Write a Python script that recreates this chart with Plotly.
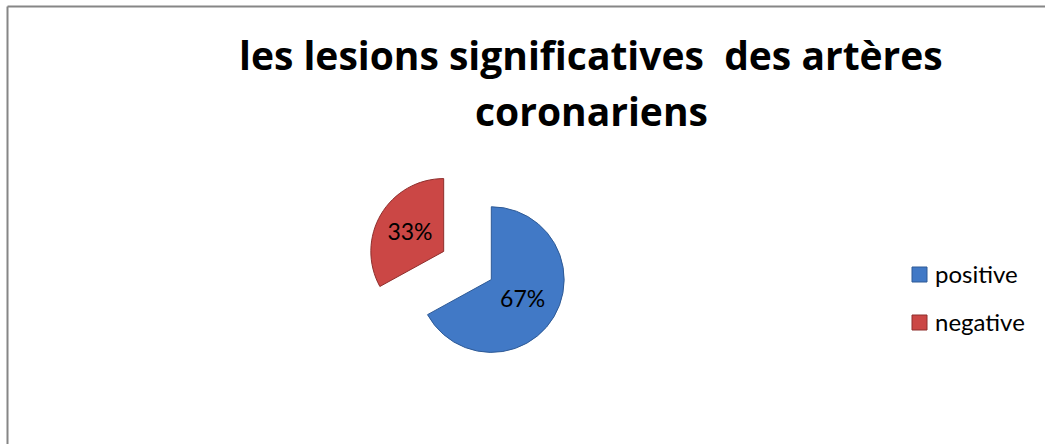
import plotly.graph_objects as go

# Chart data
categories = ["positive", "negative"]
values = [67, 33]
slice_colors = ["#4179C6", "#CB4745"]
edge_colors = ["#2E5A96", "#8E2E2C"]
title_lines = ["les lesions significatives  des artères", "coronariens"]

W, H = 1045, 444


def px_x(x):
    return x / W


def px_y(y):
    return 1 - y / H


fig = go.Figure()

fig.add_trace(go.Pie(
    labels=categories,
    values=values,
    sort=False,
    direction="clockwise",
    rotation=0,
    pull=[0.38, 0.38],
    marker=dict(colors=slice_colors, line=dict(color=edge_colors, width=1)),
    texttemplate="%{percent:.0%}",
    textposition="inside",
    insidetextorientation="horizontal",
    textfont=dict(family="Lato", size=23, color="#000000"),
    domain=dict(x=[px_x(367), px_x(568)], y=[px_y(366), px_y(165)]),
    showlegend=False,
    hoverinfo="label+percent",
))

# Title, two centred lines
for i, line in enumerate(title_lines):
    fig.add_annotation(
        text=f"<b>{line}</b>",
        x=px_x(591), y=px_y(55 + 55 * i),
        xref="paper", yref="paper",
        xanchor="center", yanchor="middle",
        showarrow=False,
        font=dict(family="Open Sans", size=39, color="#000000"),
    )

# Legend: square swatch + label for each category
for i, (name, col, edge) in enumerate(zip(categories, slice_colors, edge_colors)):
    cy = 274.5 + 48 * i
    fig.add_shape(
        type="rect", xref="paper", yref="paper",
        x0=px_x(912), x1=px_x(927), y0=px_y(cy + 7.5), y1=px_y(cy - 7.5),
        fillcolor=col, line=dict(color=edge, width=1),
    )
    fig.add_annotation(
        text=name,
        x=px_x(933), y=px_y(cy - 1),
        xref="paper", yref="paper",
        xanchor="left", yanchor="middle",
        showarrow=False,
        font=dict(family="Lato", size=24, color="#000000"),
    )

# Chart frame (top and left edges)
fig.add_shape(type="line", xref="paper", yref="paper",
              x0=px_x(7.5), x1=1.01, y0=px_y(6.5), y1=px_y(6.5),
              line=dict(color="#868686", width=2))
fig.add_shape(type="line", xref="paper", yref="paper",
              x0=px_x(7.5), x1=px_x(7.5), y0=px_y(6.5), y1=-0.01,
              line=dict(color="#868686", width=2))

fig.update_layout(
    width=W, height=H,
    margin=dict(l=0, r=0, t=0, b=0),
    paper_bgcolor="#FFFFFF",
    plot_bgcolor="#FFFFFF",
)

fig.write_html("out.html")
